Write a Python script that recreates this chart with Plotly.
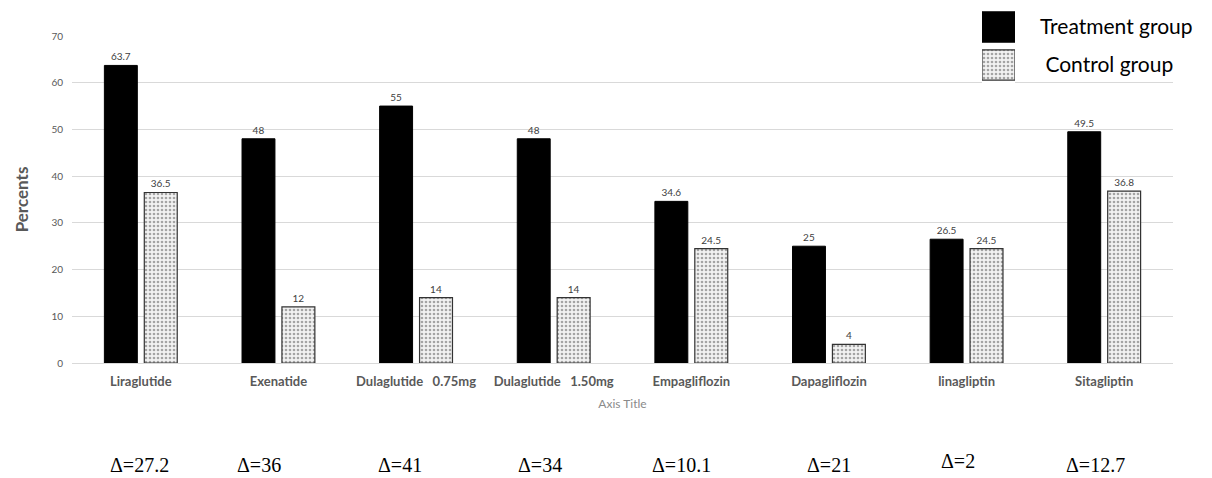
import plotly.graph_objects as go

categories = ["Liraglutide", "Exenatide", "Dulaglutide\u00a0\u00a0\u00a00.75mg", "Dulaglutide\u00a0\u00a0\u00a01.50mg",
              "Empagliflozin", "Dapagliflozin", "linagliptin", "Sitagliptin"]
treatment = [63.7, 48, 55, 48, 34.6, 25, 26.5, 49.5]
control = [36.5, 12, 14, 14, 24.5, 4, 24.5, 36.8]
deltas = ["Δ=27.2", "Δ=36", "Δ=41", "Δ=34", "Δ=10.1", "Δ=21", "Δ=2", "Δ=12.7"]
delta_shift = [-1, -19, -16, -14, -10, 0, -9, -9]
delta_yshift = [0, 0, 0, 0, 0, 0, 4, 0]
legend_labels = ["Treatment group", "Control group"]
legend_text = ["Treatment group", "\u00a0Control group"]

FONT = "Lato, 'Open Sans', sans-serif"
GRAY = "#595959"

# page body has an 8px margin; figure sized so it fills the 1212x478 window
OFF = 8
W, H = 1212 - OFF, 478 - OFF
L, R, T, B = 72 - OFF, 39, 0, 115
PH = H - T - B
PW = W - L - R


def yfrac(py):
    # py: reference screen pixel
    return (H - B - (py - OFF)) / PH


def xfrac(px):
    return (px - 72) / PW


fig = go.Figure()
fig.add_trace(go.Bar(
    x=categories, y=treatment, name=legend_labels[0],
    marker=dict(color="black", line=dict(color="black", width=1)),
    text=[str(v) for v in treatment], textposition="outside",
    textfont=dict(size=10, color="#404040", family=FONT), cliponaxis=False,
    showlegend=False,
))
fig.add_trace(go.Bar(
    x=categories, y=control, name=legend_labels[1],
    marker=dict(color="white", line=dict(color="#333333", width=1.2),
                pattern=dict(shape=".", fgcolor="#555555", bgcolor="#f2f2f2", size=4, solidity=0.35)),
    text=[str(v) for v in control], textposition="outside",
    textfont=dict(size=10, color="#404040", family=FONT), cliponaxis=False,
    showlegend=False,
))

# custom legend swatches on a small secondary axis
fig.add_trace(go.Bar(
    x=[1], y=[legend_labels[0]], orientation="h", xaxis="x2", yaxis="y2", width=0.8,
    marker=dict(color="black", line=dict(color="black", width=1)), showlegend=False, hoverinfo="skip",
))
fig.add_trace(go.Bar(
    x=[1], y=[legend_labels[1]], orientation="h", xaxis="x2", yaxis="y2", width=0.8,
    marker=dict(color="white", line=dict(color="#333333", width=1.2),
                pattern=dict(shape=".", fgcolor="#555555", bgcolor="#f2f2f2", size=4, solidity=0.35)),
    showlegend=False, hoverinfo="skip",
))

for cat, d, xs, ys in zip(categories, deltas, delta_shift, delta_yshift):
    fig.add_annotation(x=cat, xref="x", y=0, yref="paper", yanchor="middle", yshift=-102 + ys, xshift=xs,
                       text=d, showarrow=False, borderpad=0,
                       font=dict(family="'Liberation Serif', 'Times New Roman', serif", size=20, color="black"))

fig.update_layout(
    width=W, height=H,
    margin=dict(l=L, r=R, t=T, b=B, autoexpand=False),
    paper_bgcolor="white", plot_bgcolor="white",
    barmode="group", bargap=0.42, bargroupgap=0.175,
    font=dict(family=FONT, color=GRAY),
    xaxis=dict(
        tickfont=dict(size=13, color=GRAY, family=FONT, weight="bold"),
        showline=True, linecolor="#d9d9d9", linewidth=1, ticks="", ticklabelstandoff=6,
        title=dict(text="Axis Title", font=dict(size=12, color="#8a8a8a"), standoff=12),
        domain=[0, 1], automargin=False,
    ),
    yaxis=dict(
        domain=[0, yfrac(36)], automargin=False,
        range=[0, 70], dtick=10, tickfont=dict(size=10, color=GRAY),
        showgrid=True, gridcolor="#d9d9d9", gridwidth=1, zeroline=False,
        ticks="", ticklen=0, tickformat="d", ticklabelstandoff=8,
        title=dict(text="Percents", font=dict(size=17, color=GRAY, weight="bold"), standoff=18),
    ),
    xaxis2=dict(domain=[xfrac(982), xfrac(1015)], anchor="y2", automargin=False,
                range=[0, 1], visible=False, fixedrange=True),
    yaxis2=dict(domain=[yfrac(84), yfrac(8)], anchor="x2", automargin=False,
                side="right", categoryorder="array", categoryarray=[legend_labels[1], legend_labels[0]],
                tickmode="array", tickvals=legend_labels, ticktext=legend_text,
                showgrid=False, zeroline=False, showline=False, ticks="", ticklabelstandoff=24,
                tickfont=dict(size=21, color="black", family=FONT), fixedrange=True),
)

fig.write_html("out.html")
